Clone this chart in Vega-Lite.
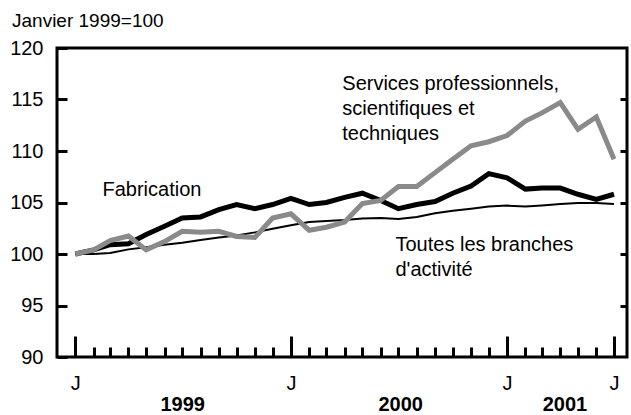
{
  "$schema": "https://vega.github.io/schema/vega-lite/v6.json",
  "width": 570,
  "height": 309,
  "autosize": "none",
  "padding": {"left": 57, "top": 48, "right": 4, "bottom": 58},
  "title": {"text": "Janvier 1999=100", "anchor": "start", "frame": "group", "orient": "top", "dx": -45, "dy": 21, "offset": 9, "baseline": "bottom", "fontSize": 19, "fontWeight": "normal", "font": "Liberation Sans", "color": "#000000"},
  "config": {
    "font": "Liberation Sans",
    "view": {"stroke": "#000000", "strokeWidth": 3},
    "axis": {"domain": false, "grid": false, "title": null, "tickColor": "#000000", "tickWidth": 3, "labelColor": "#000000", "labelFont": "Liberation Sans", "labelFontSize": 20, "labelFlush": false, "labelOverlap": false, "labelBound": false}
  },
  "data": {"values": [
    {"date": "1999-01-01", "Fabrication": 100.0, "Services": 100.0, "Toutes": 100.0},
    {"date": "1999-02-01", "Fabrication": 100.4, "Services": 100.4, "Toutes": 100.0},
    {"date": "1999-03-01", "Fabrication": 100.9, "Services": 101.3, "Toutes": 100.1},
    {"date": "1999-04-01", "Fabrication": 101.0, "Services": 101.75, "Toutes": 100.45},
    {"date": "1999-05-01", "Fabrication": 101.9, "Services": 100.4, "Toutes": 100.65},
    {"date": "1999-06-01", "Fabrication": 102.7, "Services": 101.2, "Toutes": 100.9},
    {"date": "1999-07-01", "Fabrication": 103.5, "Services": 102.2, "Toutes": 101.1},
    {"date": "1999-08-01", "Fabrication": 103.6, "Services": 102.1, "Toutes": 101.35},
    {"date": "1999-09-01", "Fabrication": 104.3, "Services": 102.2, "Toutes": 101.6},
    {"date": "1999-10-01", "Fabrication": 104.8, "Services": 101.7, "Toutes": 101.8},
    {"date": "1999-11-01", "Fabrication": 104.4, "Services": 101.6, "Toutes": 102.1},
    {"date": "1999-12-01", "Fabrication": 104.8, "Services": 103.5, "Toutes": 102.45},
    {"date": "2000-01-01", "Fabrication": 105.4, "Services": 103.9, "Toutes": 102.8},
    {"date": "2000-02-01", "Fabrication": 104.8, "Services": 102.3, "Toutes": 103.1},
    {"date": "2000-03-01", "Fabrication": 105.0, "Services": 102.6, "Toutes": 103.2},
    {"date": "2000-04-01", "Fabrication": 105.5, "Services": 103.1, "Toutes": 103.3},
    {"date": "2000-05-01", "Fabrication": 105.9, "Services": 104.9, "Toutes": 103.45},
    {"date": "2000-06-01", "Fabrication": 105.2, "Services": 105.2, "Toutes": 103.5},
    {"date": "2000-07-01", "Fabrication": 104.4, "Services": 106.55, "Toutes": 103.4},
    {"date": "2000-08-01", "Fabrication": 104.8, "Services": 106.55, "Toutes": 103.6},
    {"date": "2000-09-01", "Fabrication": 105.1, "Services": 107.9, "Toutes": 103.95},
    {"date": "2000-10-01", "Fabrication": 105.9, "Services": 109.2, "Toutes": 104.2},
    {"date": "2000-11-01", "Fabrication": 106.6, "Services": 110.5, "Toutes": 104.4},
    {"date": "2000-12-01", "Fabrication": 107.8, "Services": 110.9, "Toutes": 104.6},
    {"date": "2001-01-01", "Fabrication": 107.4, "Services": 111.5, "Toutes": 104.7},
    {"date": "2001-02-01", "Fabrication": 106.3, "Services": 112.9, "Toutes": 104.6},
    {"date": "2001-03-01", "Fabrication": 106.4, "Services": 113.7, "Toutes": 104.7},
    {"date": "2001-04-01", "Fabrication": 106.4, "Services": 114.7, "Toutes": 104.85},
    {"date": "2001-05-01", "Fabrication": 105.8, "Services": 112.1, "Toutes": 104.95},
    {"date": "2001-06-01", "Fabrication": 105.3, "Services": 113.3, "Toutes": 104.95},
    {"date": "2001-07-01", "Fabrication": 105.8, "Services": 109.2, "Toutes": 104.85}
  ]},
  "resolve": {"axis": {"x": "independent", "y": "independent"}},
  "layer": [
    {
      "mark": {"type": "line", "color": "#000000", "strokeWidth": 2},
      "encoding": {
        "x": {"field": "date", "type": "temporal",
          "scale": {"type": "utc", "domain": [{"year": 1998, "month": 12, "date": 1, "utc": true}, {"year": 2001, "month": 7, "date": 23, "utc": true}]},
          "axis": {"orient": "bottom", "labels": false, "tickSize": -10,
            "values": [
              {"year": 1999, "month": 1, "utc": true}, {"year": 1999, "month": 2, "utc": true}, {"year": 1999, "month": 3, "utc": true}, {"year": 1999, "month": 4, "utc": true}, {"year": 1999, "month": 5, "utc": true}, {"year": 1999, "month": 6, "utc": true}, {"year": 1999, "month": 7, "utc": true}, {"year": 1999, "month": 8, "utc": true}, {"year": 1999, "month": 9, "utc": true}, {"year": 1999, "month": 10, "utc": true}, {"year": 1999, "month": 11, "utc": true}, {"year": 1999, "month": 12, "utc": true},
              {"year": 2000, "month": 1, "utc": true}, {"year": 2000, "month": 2, "utc": true}, {"year": 2000, "month": 3, "utc": true}, {"year": 2000, "month": 4, "utc": true}, {"year": 2000, "month": 5, "utc": true}, {"year": 2000, "month": 6, "utc": true}, {"year": 2000, "month": 7, "utc": true}, {"year": 2000, "month": 8, "utc": true}, {"year": 2000, "month": 9, "utc": true}, {"year": 2000, "month": 10, "utc": true}, {"year": 2000, "month": 11, "utc": true}, {"year": 2000, "month": 12, "utc": true},
              {"year": 2001, "month": 1, "utc": true}, {"year": 2001, "month": 2, "utc": true}, {"year": 2001, "month": 3, "utc": true}, {"year": 2001, "month": 4, "utc": true}, {"year": 2001, "month": 5, "utc": true}, {"year": 2001, "month": 6, "utc": true}, {"year": 2001, "month": 7, "utc": true}
            ]}},
        "y": {"field": "Toutes", "type": "quantitative",
          "scale": {"domain": [90, 120], "nice": false, "zero": false},
          "axis": {"orient": "left", "values": [90, 95, 100, 105, 110, 115, 120], "tickSize": -10, "labelPadding": 24}}
      }
    },
    {
      "mark": {"type": "line", "color": "#000000", "strokeWidth": 5},
      "encoding": {
        "x": {"field": "date", "type": "temporal",
          "axis": {"orient": "bottom", "tickSize": -21, "labelPadding": 37, "labelExpr": "'J'",
            "values": [{"year": 1999, "month": 1, "utc": true}, {"year": 2000, "month": 1, "utc": true}, {"year": 2001, "month": 1, "utc": true}, {"year": 2001, "month": 7, "utc": true}]}},
        "y": {"field": "Fabrication", "type": "quantitative",
          "axis": {"orient": "right", "values": [95, 100, 105, 110, 115], "tickSize": -7, "labels": false}}
      }
    },
    {
      "mark": {"type": "line", "color": "#8a8a8a", "strokeWidth": 5},
      "encoding": {
        "x": {"field": "date", "type": "temporal",
          "axis": {"orient": "bottom", "ticks": false, "labelPadding": 37, "labelFontWeight": "bold", "labelExpr": "utcFormat(datum.value, '%Y')",
            "values": [{"year": 1999, "month": 7, "date": 1, "utc": true}, {"year": 2000, "month": 7, "date": 4, "utc": true}, {"year": 2001, "month": 4, "date": 8, "utc": true}]}},
        "y": {"field": "Services", "type": "quantitative", "axis": null}
      }
    },
    {
      "data": {"values": [
        {"date": "1999-02-16", "value": 105.65, "label": "Fabrication"},
        {"date": "2000-03-28", "value": 115.9, "label": "Services professionnels,\nscientifiques et\ntechniques"},
        {"date": "2000-06-26", "value": 100.32, "label": "Toutes les branches\nd'activité"}
      ]},
      "mark": {"type": "text", "align": "left", "baseline": "alphabetic", "fontSize": 20, "font": "Liberation Sans", "color": "#000000", "lineBreak": "\n", "lineHeight": 25},
      "encoding": {
        "x": {"field": "date", "type": "temporal", "axis": null},
        "y": {"field": "value", "type": "quantitative", "axis": null},
        "text": {"field": "label"}
      }
    }
  ]
}
